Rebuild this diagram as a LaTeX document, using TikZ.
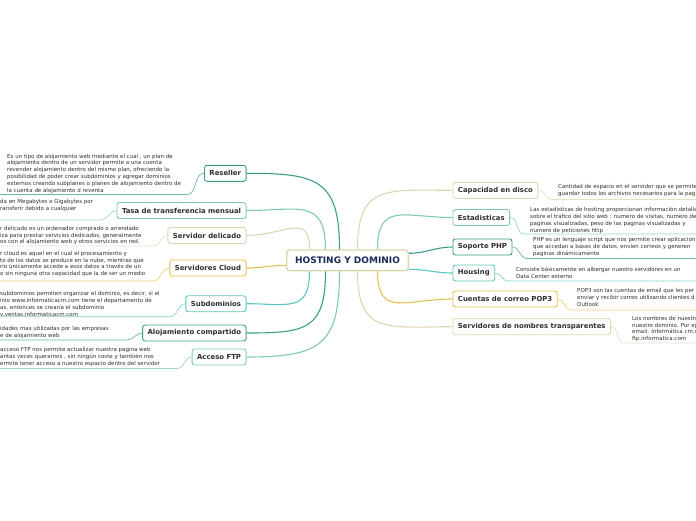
\documentclass[tikz,border=0pt]{standalone}
\usepackage{fontspec}
\setmainfont{DejaVu Sans}
\definecolor{dteal}{HTML}{3A9E88}
\definecolor{lteal}{HTML}{7CCBB0}
\definecolor{beige}{HTML}{DDD5B2}
\definecolor{yel}{HTML}{E0C24A}
\definecolor{cyant}{HTML}{5CC5BF}
\definecolor{txt}{HTML}{2E2E2E}
\definecolor{navy}{HTML}{1B2A5A}
\begin{document}
\begin{tikzpicture}[x=1pt,y=-1pt,
  box/.style={draw=#1, rounded corners=2.5pt, line width=0.9pt, fill=white,
    font=\fontsize{6.9}{7}\selectfont\bfseries, text=txt, minimum height=16pt,
    inner xsep=5pt, inner ysep=0pt},
  desc/.style={font=\fontsize{5.5}{6.8}\selectfont, text=txt, align=left,
    inner sep=0pt, anchor=north west},
  main/.style={draw=#1, line width=1.1pt, looseness=1.5},
  sub/.style={draw=#1!75, line width=0.7pt},
]
\useasboundingbox (0,0) rectangle (696,520);

% central node
\node[draw=beige, line width=1.4pt, rounded corners=3pt, fill=white,
  minimum width=121.6pt, minimum height=20.7pt, inner sep=0pt,
  font=\fontsize{9}{10}\selectfont\bfseries, text=navy] (c) at (347.5,260.3) {HOSTING Y DOMINIO};

% left nodes
\node[box=dteal, anchor=east] (rs) at (246.5,173.3) {Reseller};
\node[box=lteal, anchor=east] (ta) at (246.5,210.5) {Tasa de transferencia mensual};
\node[box=beige, anchor=east] (sd) at (246.5,235.5) {Servidor delicado};
\node[box=yel,   anchor=east] (cl) at (246.5,268) {Servidores Cloud};
\node[box=cyant, anchor=east] (su) at (246.5,303.7) {Subdominios};
\node[box=dteal, anchor=east] (al) at (246.5,333) {Alojamiento compartido};
\node[box=lteal, anchor=east] (ft) at (246.5,357) {Acceso FTP};

% right nodes
\node[box=beige, anchor=west] (ca) at (452.5,190.3) {Capacidad en disco};
\node[box=lteal, anchor=west] (es) at (452.5,217.5) {Estadisticas};
\node[box=dteal, anchor=west] (ph) at (452.5,247) {Soporte PHP};
\node[box=cyant, anchor=west] (ho) at (452.5,273) {Housing};
\node[box=yel,   anchor=west] (po) at (452.5,299) {Cuentas de correo POP3};
\node[box=beige, anchor=west] (no) at (452.5,326.7) {Servidores de nombres transparentes};

% main connectors
\draw[main=dteal] ([xshift=-8pt]c.north) to[out=90,in=0] (rs.east);
\draw[main=lteal] ([xshift=-22pt]c.north) to[out=90,in=0] (ta.east);
\draw[main=beige] ([xshift=-38pt]c.north) to[out=90,in=0] (sd.east);
\draw[main=yel, looseness=1] ([yshift=-5pt]c.west) to[out=180,in=0] (cl.east);
\draw[main=cyant] ([xshift=-38pt]c.south) to[out=-90,in=0] (su.east);
\draw[main=dteal] ([xshift=-22pt]c.south) to[out=-90,in=0] (al.east);
\draw[main=lteal] ([xshift=-8pt]c.south) to[out=-90,in=0] (ft.east);
\draw[main=beige] ([xshift=10pt]c.north) to[out=90,in=180] (ca.west);
\draw[main=lteal] ([xshift=30pt]c.north) to[out=90,in=180] (es.west);
\draw[main=dteal, looseness=1] ([yshift=7pt]c.east) to[out=0,in=180] (ph.west);
\draw[main=cyant, looseness=1] ([yshift=-9pt]c.east) to[out=0,in=180] (ho.west);
\draw[main=yel] ([xshift=30pt]c.south) to[out=-90,in=180] (po.west);
\draw[main=beige] ([xshift=10pt]c.south) to[out=-90,in=180] (no.west);

% left descriptions
\node[desc] (drs) at (7,153.8) {Es un tipo de alojamiento web mediante el cual , un plan de\\alojamiento dentro de un servidor permite a una cuenta\\revender alojamiento dentro del mismo plan, ofreciendo la\\posibilidad de poder crear subdominios y agregar dominios\\externos creando subplanes o planes de alojamiento dentro de\\la cuenta de alojamiento d reventa};
\node[desc] (dta) at (0,199.5) {da en Megabytes o Gigabytes por\\ransferir debido a cualquier};
\node[desc] (dsd) at (0,226) {r delicado es un ordenador comprado o arrendado\\iza para prestar servicios dedicados, generalmente\\os con el alojamiento web y otros servicios en red.};
\node[desc] (dcl) at (0,251) {r cloud es aquel en el cual el procesamiento y\\to de los datos se produce en la nube, mientras que\\rio únicamente accede a esos datos a través de un\\o sin ninguna otra capacidad que la de ser un medio};
\node[desc] (dsu) at (0,291.5) {subdominios permiten organizar el dominio, es decir, si el\\inio www.informaticacm.com tiene el departamento de\\as, entonces se crearía el subdominio\\v.ventas.informaticacm.com};
\node[desc] (dal) at (0,326) {idades mas utilizadas por las empresas\\e de alojamiento web};
\node[desc] (dft) at (0,347.5) { acceso FTP nos permite actualizar nuestra pagina web\\antas veces queramos , sin ningún coste y también nos\\ermite tener acceso a nuestro espacio dentro del servidor};

% right descriptions
\node[desc] (dca) at (558,184) {Cantidad de espacio en el servidor que se permite\\guardar todos los archivos necesarios para la pag};
\node[desc] (des) at (530,207) {Las estadísticas de hosting proporcionan información detalla\\sobre el trafico del sitio web : numero de visitas, numero de\\paginas visualizadas, peso de las paginas visualizadas y\\numero de peticiones http};
\node[desc] (dph) at (533,237.5) {PHP es un lenguaje script que nos permite crear aplicacion\\que accedan a bases de datos, envíen correos y generen\\paginas dinámicamente};
\node[desc] (dho) at (516,267) {Consiste básicamente en albergar nuestro servidores en un\\Data Center externo};
\node[desc] (dpo) at (577,288.5) {POP3 son las cuentas de email que les per\\enviar y recibir correo utilizando clientes d\\Outlook};
\node[desc] (dno) at (632,316) {Los nombres de nuestro\\nuestro dominio. Por ej\\email. Informática cm.c\\ftp.informatica.com};

% underline coordinates
\coordinate (rs1) at (187,194.5);  \coordinate (rs0) at (0,194.5);
\coordinate (ta1) at (101,220);    \coordinate (ta0) at (0,220);
\coordinate (sd1) at (154,246);    \coordinate (sd0) at (0,246);
\coordinate (cl1) at (153,281);    \coordinate (cl0) at (0,281);
\coordinate (su1) at (170,316.7);  \coordinate (su0) at (0,316.7);
\coordinate (al1) at (127,340);    \coordinate (al0) at (0,340);
\coordinate (ft1) at (177,368.5);  \coordinate (ft0) at (0,368.5);
\coordinate (ca1) at (552,199.5);  \coordinate (ca0) at (696,199.5);
\coordinate (es1) at (524,234);    \coordinate (es0) at (696,234);
\coordinate (ph1) at (527,258.5);  \coordinate (ph0) at (696,258.5);
\coordinate (ho1) at (508,281);    \coordinate (ho0) at (696,281);
\coordinate (po1) at (571,310);    \coordinate (po0) at (696,310);
\coordinate (no1) at (624,343);    \coordinate (no0) at (696,343);

% description connectors
\draw[sub=dteal] (rs.west) to[out=180,in=0] (rs1) -- (rs0);
\draw[sub=lteal] (ta.west) to[out=180,in=0] (ta1) -- (ta0);
\draw[sub=beige] (sd.west) to[out=180,in=0] (sd1) -- (sd0);
\draw[sub=yel]   (cl.west) to[out=180,in=0] (cl1) -- (cl0);
\draw[sub=cyant] (su.west) to[out=180,in=0] (su1) -- (su0);
\draw[sub=dteal] (al.west) to[out=180,in=0] (al1) -- (al0);
\draw[sub=lteal] (ft.west) to[out=180,in=0] (ft1) -- (ft0);
\draw[sub=beige] (ca.east) to[out=0,in=180] (ca1) -- (ca0);
\draw[sub=lteal] (es.east) to[out=0,in=180] (es1) -- (es0);
\draw[sub=dteal] (ph.east) to[out=0,in=180] (ph1) -- (ph0);
\draw[sub=cyant] (ho.east) to[out=0,in=180] (ho1) -- (ho0);
\draw[sub=yel]   (po.east) to[out=0,in=180] (po1) -- (po0);
\draw[sub=beige] (no.east) to[out=0,in=180] (no1) -- (no0);
\end{tikzpicture}
\end{document}
